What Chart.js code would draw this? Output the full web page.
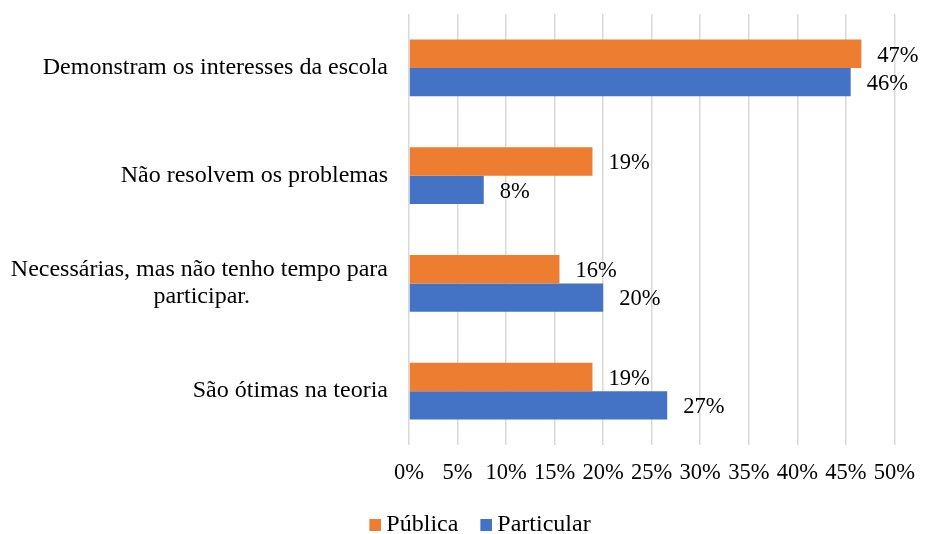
<!DOCTYPE html>
<html lang="pt">
<head>
    <meta charset="UTF-8">
    <title>Reuniões</title>
    <script src="https://cdn.jsdelivr.net/npm/chart.js"></script>
    <style>
        body { margin: 0; background: #fff; }
        .wrap { width: 930px; height: 534px; position: relative; }
    </style>
</head>
<body>
    <div class="wrap"><canvas id="chart"></canvas></div>

    <script>
        // data (percent)
        const categories = [
            'Demonstram os interesses da escola',
            'Não resolvem os problemas',
            ['Necessárias, mas não tenho tempo para', 'participar.'],
            'São ótimas na teoria'
        ];
        const publica = [46.6, 18.9, 15.5, 18.9];
        const particular = [45.5, 7.7, 20.0, 26.6];
        const xTicks = [0, 5, 10, 15, 20, 25, 30, 35, 40, 45, 50];

        const FAMILY = "'Liberation Serif', 'Times New Roman', serif";
        const ORANGE = '#ED7D31';
        const BLUE = '#4472C4';

        // value labels to the right of each bar
        const barLabels = {
            id: 'barLabels',
            afterDatasetsDraw(chart) {
                const ctx = chart.ctx;
                ctx.save();
                ctx.font = '22.5px ' + FAMILY;
                ctx.fillStyle = '#000';
                ctx.textAlign = 'left';
                ctx.textBaseline = 'middle';
                chart.data.datasets.forEach((ds, i) => {
                    chart.getDatasetMeta(i).data.forEach((bar, j) => {
                        ctx.fillText(Math.round(ds.data[j]) + '%', bar.x + 16, bar.y + 2);
                    });
                });
                ctx.restore();
            }
        };

        // legend sits a bit right of the canvas centre in the original
        const legendShift = {
            id: 'legendShift',
            afterLayout(chart) {
                chart.legend.left += 30;
                chart.legend.right += 30;
            }
        };

        // little square for the legend, drawn to the right so the text sits closer
        function legendSwatch(color) {
            const c = document.createElement('canvas');
            c.width = 15; c.height = 12;
            const g = c.getContext('2d');
            g.fillStyle = color;
            g.fillRect(3, 0, 12, 12);
            return c;
        }

        // centre the wrapped second line under the first one
        const yLabels = categories.map(c => Array.isArray(c)
            ? [c[0], c[1] + '\u00A0'.repeat(23)]
            : c);

        Chart.defaults.font.family = FAMILY;
        Chart.defaults.color = '#000';

        new Chart(document.getElementById('chart'), {
            type: 'bar',
            data: {
                labels: yLabels,
                datasets: [
                    { label: 'Pública', data: publica, backgroundColor: ORANGE },
                    { label: 'Particular', data: particular, backgroundColor: BLUE }
                ]
            },
            options: {
                indexAxis: 'y',
                responsive: true,
                maintainAspectRatio: false,
                animation: false,
                categoryPercentage: 0.525,
                barPercentage: 1,
                layout: { padding: { left: 8, right: 34, top: 14, bottom: -13 } },
                scales: {
                    x: {
                        min: 0,
                        max: 50,
                        afterBuildTicks: s => { s.ticks = xTicks.map(v => ({ value: v })); },
                        afterFit: s => { s.height = 42; },
                        ticks: { callback: v => v + '%', padding: 15, maxRotation: 0, font: { size: 22.5 } },
                        grid: { color: '#d9d9d9', lineWidth: 1.5, drawTicks: false },
                        border: { display: false }
                    },
                    y: {
                        afterFit: s => { s.width = 401; s.paddingTop = 0; s.paddingBottom = 0; },
                        ticks: { padding: 21, font: { size: 24, lineHeight: 1.15 } },
                        grid: { display: false, drawTicks: false },
                        border: { display: false }
                    }
                },
                plugins: {
                    legend: {
                        position: 'bottom',
                        labels: {
                            font: { size: 24 },
                            padding: 26,
                            usePointStyle: true,
                            pointStyleWidth: 1,
                            generateLabels: chart => chart.data.datasets.map((ds, i) => ({
                                text: ds.label,
                                pointStyle: legendSwatch(ds.backgroundColor),
                                fillStyle: ds.backgroundColor,
                                strokeStyle: ds.backgroundColor,
                                lineWidth: 0,
                                hidden: false,
                                datasetIndex: i
                            }))
                        }
                    },
                    tooltip: { enabled: false }
                }
            },
            plugins: [barLabels, legendShift]
        });
    </script>
</body>
</html>
